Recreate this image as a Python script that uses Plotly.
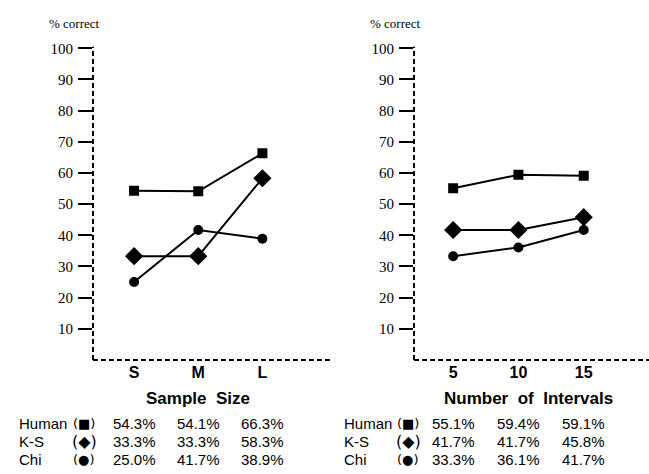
import plotly.graph_objects as go

# ---- data ----
size_cats = ["S", "M", "L"]
size_human = [54.3, 54.1, 66.3]
size_ks = [33.3, 33.3, 58.3]
size_chi = [25.0, 41.7, 38.9]

int_cats = ["5", "10", "15"]
int_human = [55.1, 59.4, 59.1]
int_ks = [41.7, 41.7, 45.8]
int_chi = [33.3, 36.1, 41.7]

y_ticks = [10, 20, 30, 40, 50, 60, 70, 80, 90, 100]
row_labels = ["Human", "K-S", "Chi"]
row_symbols = ["(\u25A0)", "(\u25C6)", "(\u25CF)"]

W, H = 649, 474
fig = go.Figure()

series_style = [
    ("square", 10),
    ("diamond", 14),
    ("circle", 10),
]

panels = [
    (size_cats, [size_human, size_ks, size_chi], "x", "y"),
    (int_cats, [int_human, int_ks, int_chi], "x2", "y2"),
]
for cats, series, xa, ya in panels:
    xs = list(range(len(cats)))
    for vals, (sym, sz) in zip(series, series_style):
        fig.add_trace(go.Scatter(
            x=xs, y=vals, xaxis=xa, yaxis=ya, mode="lines+markers",
            line=dict(color="black", width=2),
            marker=dict(symbol=sym, size=sz, color="black"),
            showlegend=False, hoverinfo="skip"))

ydom = [(H - 358) / H, (H - 41) / H]
xdom1 = [93 / W, 333 / W]
xdom2 = [414 / W, 1.0]

tickfont_y = dict(family="Liberation Serif, Times New Roman, serif", size=15, color="black")
tickfont_x = dict(family="Liberation Sans, Arial, sans-serif", size=16, color="black", weight="bold")

def xaxis(dom, cats, anchor):
    return dict(domain=dom, range=[-0.64, 3.1] if anchor == "y" else [-0.6, 3.0],
                tickvals=list(range(len(cats))), ticktext=cats, showgrid=False,
                zeroline=False, showline=False, ticks="", tickfont=tickfont_x,
                ticklabelstandoff=1, anchor=anchor, fixedrange=True)

def yaxis(anchor):
    return dict(domain=ydom, range=[0, 100], tickvals=y_ticks, showgrid=False,
                zeroline=False, showline=False, ticks="outside", ticklen=14,
                tickwidth=1.6, tickcolor="black", tickfont=tickfont_y,
                ticklabelstandoff=2, anchor=anchor, fixedrange=True)

fig.update_layout(
    width=W, height=H, margin=dict(l=0, r=0, t=0, b=0),
    paper_bgcolor="white", plot_bgcolor="white",
    xaxis=xaxis(xdom1, size_cats, "y"),
    yaxis=yaxis("x"),
    xaxis2=xaxis(xdom2, int_cats, "y2"),
    yaxis2=yaxis("x2"),
)

# dashed axes
dash = "5px,3px"
for xr, yr in (("x", "y"), ("x2", "y2")):
    fig.add_shape(type="line", xref=f"{xr} domain", yref=f"{yr} domain",
                  x0=0, x1=0, y0=0, y1=1.005, line=dict(color="black", width=2, dash=dash))
    fig.add_shape(type="line", xref=f"{xr} domain", yref=f"{yr} domain",
                  x0=0, x1=1, y0=0, y1=0, line=dict(color="black", width=2, dash=dash))

serif = dict(family="Liberation Serif, Times New Roman, serif", size=13, color="black")
sans = dict(family="Liberation Sans, Arial, DejaVu Sans, sans-serif", size=15, color="black")
title_font = dict(family="Liberation Sans, Arial, sans-serif", size=17, color="black", weight="bold")
sym_sizes = [13, 16, 13]

# "% correct" labels
for xp in (47, 368):
    fig.add_annotation(text="% correct", xref="paper", yref="paper", x=xp / W, y=1 - 16 / H,
                       xanchor="left", yanchor="middle", showarrow=False, font=serif)

# axis titles
fig.add_annotation(text="Sample  Size", xref="paper", yref="paper", x=198 / W, y=1 - 397 / H,
                   xanchor="center", yanchor="middle", showarrow=False, font=title_font)
fig.add_annotation(text="Number  of  Intervals", xref="paper", yref="paper", x=528 / W, y=1 - 397 / H,
                   xanchor="center", yanchor="middle", showarrow=False, font=title_font)

# tables
row_y = [423, 441, 459]
tables = [
    ("x", size_cats, [size_human, size_ks, size_chi], 17, 84),
    ("x2", int_cats, [int_human, int_ks, int_chi], 342, 408),
]
for xr, cats, series, lab_x, sym_x in tables:
    for ry, lab, sym, ss, vals in zip(row_y, row_labels, row_symbols, sym_sizes, series):
        yp = 1 - ry / H
        fig.add_annotation(text=lab, xref="paper", yref="paper", x=lab_x / W, y=yp,
                           xanchor="left", yanchor="middle", showarrow=False, font=sans)
        fig.add_annotation(text=sym, xref="paper", yref="paper", x=sym_x / W, y=yp,
                           xanchor="center", yanchor="middle", showarrow=False,
                           font=dict(family="DejaVu Sans, sans-serif", size=ss, color="black"))
        for i, v in enumerate(vals):
            fig.add_annotation(text=f"{v:.1f}%", xref=xr, yref="paper", x=i, y=yp,
                               xanchor="center", yanchor="middle", showarrow=False, font=sans)

fig.write_html("out.html", config={"displayModeBar": False},
               post_script="document.body.style.margin='0px';document.body.style.padding='0px';")
